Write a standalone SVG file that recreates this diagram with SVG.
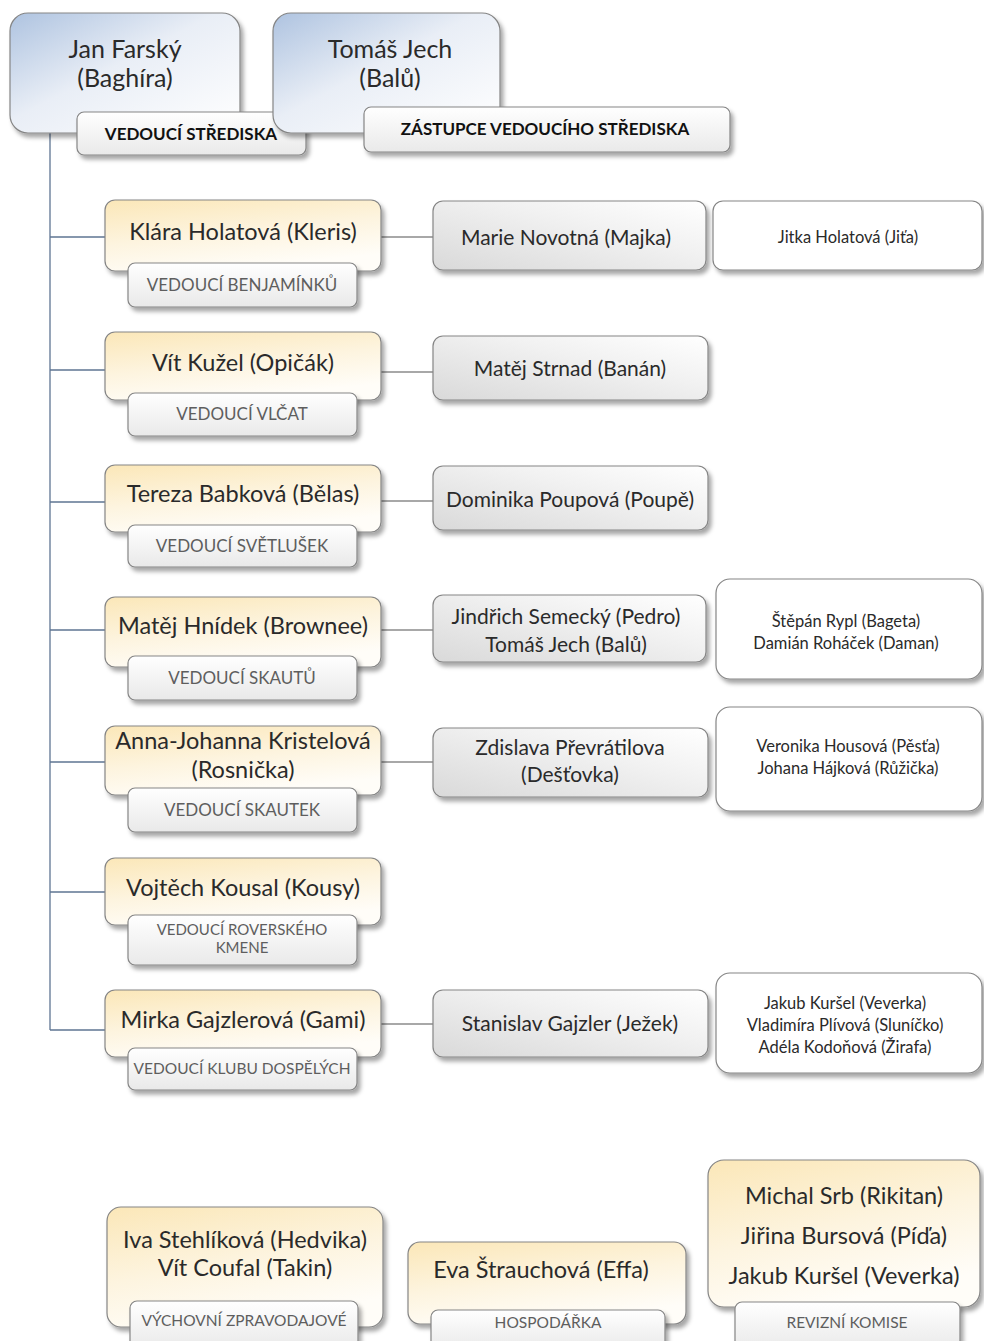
<svg xmlns="http://www.w3.org/2000/svg" width="984" height="1341" viewBox="0 0 984 1341">
<defs>
<linearGradient id="gBlue" x1="0" y1="0" x2="1" y2="1">
<stop offset="0" stop-color="#aec3e0"/><stop offset="0.45" stop-color="#e9eef6"/><stop offset="1" stop-color="#ffffff"/>
</linearGradient>
<linearGradient id="gYel" x1="0" y1="0" x2="0.4" y2="1">
<stop offset="0" stop-color="#fbe7b8"/><stop offset="0.55" stop-color="#fdf4df"/><stop offset="1" stop-color="#fffdf8"/>
</linearGradient>
<linearGradient id="gGray" x1="0" y1="1" x2="1" y2="0">
<stop offset="0" stop-color="#d9d9d9"/><stop offset="0.6" stop-color="#f1f1f1"/><stop offset="1" stop-color="#ffffff"/>
</linearGradient>
<linearGradient id="gLab" x1="0" y1="0" x2="0" y2="1">
<stop offset="0" stop-color="#ffffff"/><stop offset="1" stop-color="#e9e9e9"/>
</linearGradient>
<filter id="sh" x="-10%" y="-10%" width="130%" height="140%">
<feDropShadow dx="3" dy="4" stdDeviation="2" flood-color="#000" flood-opacity="0.35"/>
</filter>
</defs>
<style>
rect{stroke:#858585;stroke-width:1.2;filter:url(#sh)}
.b{fill:url(#gBlue)}
.y{fill:url(#gYel)}
.g{fill:url(#gGray)}
.l{fill:url(#gLab)}
.w{fill:#ffffff}
text{font-family:Lato,"Liberation Sans",sans-serif;text-anchor:middle;fill:#2a2a2a}
.n{font-size:21px}
.ny{font-size:23.5px}
.t{font-size:25px}
.s{font-size:16.5px}
.lb{font-size:17px;fill:#5e5e5e}
.ls{font-size:15.5px;fill:#5e5e5e}
.lr{font-size:15px;fill:#5e5e5e}
.hb{font-size:17px;font-weight:bold;fill:#111}
.cl{stroke:#5f7593;stroke-width:1.3;fill:none}
.cr{stroke:#8c8c8c;stroke-width:1.3;fill:none}
</style>
<rect width="984" height="1341" fill="#ffffff" style="stroke:none;filter:none"/>
<g id="connectors">
<path class="cl" d="M50 133V1030M50 237H105M50 370H105M50 502H105M50 630H105M50 762H105M50 892H105M50 1030H105"/>
<path class="cr" d="M381 237H433M381 372H433M381 501H433M381 630H433M381 762H433M381 1024H433"/>
</g>
<g id="n-farsky">
<rect class="b" x="10" y="13" width="230" height="120" rx="18"/>
<text class="t" x="125" y="58">Jan Farský</text>
<text class="t" x="125" y="87">(Baghíra)</text>
<rect class="l" x="77" y="112" width="229" height="43" rx="7"/>
<text class="hb" x="191" y="140">VEDOUCÍ STŘEDISKA</text>
</g>
<g id="n-jech">
<rect class="b" x="273" y="13" width="227" height="120" rx="18"/>
<text class="t" x="390" y="58">Tomáš Jech</text>
<text class="t" x="390" y="87">(Balů)</text>
<rect class="l" x="364" y="107" width="366" height="45" rx="7"/>
<text class="hb" x="545" y="135">ZÁSTUPCE VEDOUCÍHO STŘEDISKA</text>
</g>
<g id="n-klara">
<rect class="y" x="105" y="200" width="276" height="71" rx="10"/>
<text class="ny" x="243" y="240">Klára Holatová (Kleris)</text>
<rect class="l" x="128" y="263" width="229" height="44" rx="7"/>
<text class="lb" x="242" y="291">VEDOUCÍ BENJAMÍNKŮ</text>
</g>
<g id="n-marie">
<rect class="g" x="433" y="201" width="273" height="69" rx="10"/>
<text class="n" x="566" y="245">Marie Novotná (Majka)</text>
</g>
<g id="n-jitka">
<rect class="w" x="713" y="201" width="269" height="69" rx="10"/>
<text class="s" x="848" y="243">Jitka Holatová (Jiťa)</text>
</g>
<g id="n-vit">
<rect class="y" x="105" y="332" width="276" height="68" rx="10"/>
<text class="ny" x="243" y="371">Vít Kužel (Opičák)</text>
<rect class="l" x="128" y="393" width="229" height="43" rx="7"/>
<text class="lb" x="242" y="420">VEDOUCÍ VLČAT</text>
</g>
<g id="n-strnad">
<rect class="g" x="433" y="336" width="275" height="64" rx="10"/>
<text class="n" x="570" y="376">Matěj Strnad (Banán)</text>
</g>
<g id="n-tereza">
<rect class="y" x="105" y="465" width="276" height="67" rx="10"/>
<text class="ny" x="243" y="502">Tereza Babková (Bělas)</text>
<rect class="l" x="128" y="525" width="229" height="42" rx="7"/>
<text class="lb" x="242" y="552">VEDOUCÍ SVĚTLUŠEK</text>
</g>
<g id="n-dominika">
<rect class="g" x="433" y="466" width="275" height="64" rx="10"/>
<text class="n" x="570" y="507">Dominika Poupová (Poupě)</text>
</g>
<g id="n-hnidek">
<rect class="y" x="105" y="597" width="276" height="70" rx="10"/>
<text class="ny" x="243" y="634">Matěj Hnídek (Brownee)</text>
<rect class="l" x="128" y="656" width="229" height="44" rx="7"/>
<text class="lb" x="242" y="684">VEDOUCÍ SKAUTŮ</text>
</g>
<g id="n-semecky">
<rect class="g" x="433" y="595" width="273" height="67" rx="10"/>
<text class="n" x="566" y="624">Jindřich Semecký (Pedro)</text>
<text class="n" x="566" y="652">Tomáš Jech (Balů)</text>
</g>
<g id="n-rypl">
<rect class="w" x="716" y="579" width="266" height="100" rx="14"/>
<text class="s" x="846" y="627">Štěpán Rypl (Bageta)</text>
<text class="s" x="846" y="649">Damián Roháček (Daman)</text>
</g>
<g id="n-anna">
<rect class="y" x="105" y="726" width="276" height="69" rx="10"/>
<text class="ny" x="243" y="749">Anna-Johanna Kristelová</text>
<text class="ny" x="243" y="778">(Rosnička)</text>
<rect class="l" x="128" y="788" width="229" height="44" rx="7"/>
<text class="lb" x="242" y="816">VEDOUCÍ SKAUTEK</text>
</g>
<g id="n-zdislava">
<rect class="g" x="433" y="728" width="275" height="69" rx="10"/>
<text class="n" x="570" y="755">Zdislava Převrátilova</text>
<text class="n" x="570" y="782">(Dešťovka)</text>
</g>
<g id="n-veronika">
<rect class="w" x="716" y="707" width="266" height="104" rx="14"/>
<text class="s" x="848" y="752">Veronika Housová (Pěsťa)</text>
<text class="s" x="848" y="774">Johana Hájková (Růžička)</text>
</g>
<g id="n-vojtech">
<rect class="y" x="105" y="858" width="276" height="67" rx="10"/>
<text class="ny" x="243" y="896">Vojtěch Kousal (Kousy)</text>
<rect class="l" x="128" y="915" width="229" height="50" rx="7"/>
<text class="lr" x="242" y="935">VEDOUCÍ ROVERSKÉHO</text>
<text class="lr" x="242" y="953">KMENE</text>
</g>
<g id="n-mirka">
<rect class="y" x="105" y="990" width="276" height="67" rx="10"/>
<text class="ny" x="243" y="1028">Mirka Gajzlerová (Gami)</text>
<rect class="l" x="128" y="1048" width="229" height="42" rx="7"/>
<text class="ls" x="242" y="1074">VEDOUCÍ KLUBU DOSPĚLÝCH</text>
</g>
<g id="n-stanislav">
<rect class="g" x="433" y="990" width="275" height="67" rx="10"/>
<text class="n" x="570" y="1031">Stanislav Gajzler (Ježek)</text>
</g>
<g id="n-kursel">
<rect class="w" x="716" y="973" width="266" height="100" rx="14"/>
<text class="s" x="845" y="1009">Jakub Kuršel (Veverka)</text>
<text class="s" x="845" y="1031">Vladimíra Plívová (Sluníčko)</text>
<text class="s" x="845" y="1053">Adéla Kodoňová (Žirafa)</text>
</g>
<g id="n-iva">
<rect class="y" x="107" y="1207" width="276" height="120" rx="14"/>
<text class="ny" x="245" y="1248">Iva Stehlíková (Hedvika)</text>
<text class="ny" x="245" y="1276">Vít Coufal (Takin)</text>
<rect class="l" x="130" y="1301" width="228" height="48" rx="7"/>
<text class="ls" x="244" y="1326">VÝCHOVNÍ ZPRAVODAJOVÉ</text>
</g>
<g id="n-eva">
<rect class="y" x="408" y="1242" width="278" height="82" rx="12"/>
<text class="ny" x="541" y="1278">Eva Štrauchová (Effa)</text>
<rect class="l" x="431" y="1310" width="234" height="40" rx="7"/>
<text class="ls" x="548" y="1328">HOSPODÁŘKA</text>
</g>
<g id="n-revizni">
<rect class="y" x="708" y="1160" width="272" height="147" rx="16"/>
<text class="ny" x="844" y="1204">Michal Srb (Rikitan)</text>
<text class="ny" x="844" y="1244">Jiřina Bursová (Píďa)</text>
<text class="ny" x="844" y="1284">Jakub Kuršel (Veverka)</text>
<rect class="l" x="735" y="1302" width="225" height="48" rx="7"/>
<text class="ls" x="847" y="1328">REVIZNÍ KOMISE</text>
</g>
</svg>
